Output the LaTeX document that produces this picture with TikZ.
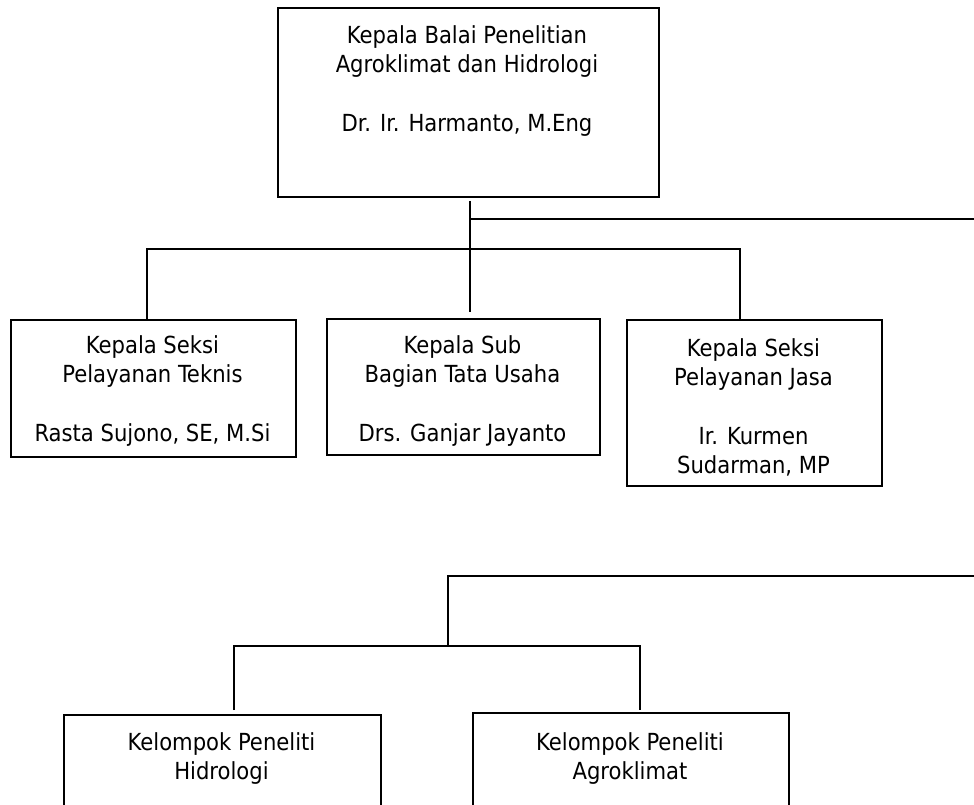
\documentclass[tikz,border=0pt]{standalone}
\usepackage{fontspec}
\setmainfont{DejaVu Sans Condensed}
\begin{document}
\begin{tikzpicture}[x=1pt,y=-1pt,
  box/.style={draw=black, line width=1.8pt, rectangle, inner sep=0pt, anchor=north west},
  txt/.style={anchor=north, inner sep=0pt, align=center, font=\fontsize{23.5}{29.3}\selectfont},
  conn/.style={draw=black, line width=1.8pt}]
\useasboundingbox (0,0) rectangle (974,805);
\fill[white] (0,0) rectangle (974,805);
\clip (0,0) rectangle (974,805);

% boxes
\node[box, minimum width=381pt, minimum height=189pt] (top) at (277,7) {};
\node[box, minimum width=285pt, minimum height=137pt] (s1) at (10,319) {};
\node[box, minimum width=273pt, minimum height=136pt] (s2) at (326,318) {};
\node[box, minimum width=255pt, minimum height=166pt] (s3) at (626,319) {};
\node[box, minimum width=317pt, minimum height=130pt] (k1) at (63,714) {};
\node[box, minimum width=316pt, minimum height=132pt] (k2) at (472,712) {};

% texts
\node[txt] (ttop) at (467,25.5) {Kepala Balai Penelitian\\Agroklimat dan Hidrologi\\[29.3pt]Dr. Ir. Harmanto, M.Eng};
\node[txt] (ts1) at (152.5,335.5) {Kepala Seksi\\Pelayanan Teknis\\[29.3pt]Rasta Sujono, SE, M.Si};
\node[txt] (ts2) at (462.5,335.5) {Kepala Sub\\Bagian Tata Usaha\\[29.3pt]Drs. Ganjar Jayanto};
\node[txt] (ts3) at (753.5,338.5) {Kepala Seksi\\Pelayanan Jasa\\[29.3pt]Ir. Kurmen\\Sudarman, MP};
\node[txt] (tk1) at (221.5,732.5) {Kelompok Peneliti\\Hidrologi};
\node[txt] (tk2) at (630,732.5) {Kelompok Peneliti\\Agroklimat};

% junction coordinates
\coordinate (trA) at (470,201);
\coordinate (trB) at (470,312);
\coordinate (rA) at (470,219);
\coordinate (rB) at (980,219);
\coordinate (c1) at (147,249);
\coordinate (c3) at (740,249);
\coordinate (bA) at (448,576);
\coordinate (bB) at (980,576);
\coordinate (bC) at (448,646);
\coordinate (d1) at (234,646);
\coordinate (d2) at (640,646);
\coordinate (e1) at (234,710);
\coordinate (e2) at (640,710);

% connectors
\draw[conn] (trA) -- (trB);
\draw[conn] (rA) -- (rB);
\draw[conn] (c1 |- s1.north) -- (c1) -- (c3) -- (c3 |- s3.north);
\draw[conn] (bB) -- (bA) -- (bC);
\draw[conn] (e1) -- (d1) -- (d2) -- (e2);
\end{tikzpicture}
\end{document}
